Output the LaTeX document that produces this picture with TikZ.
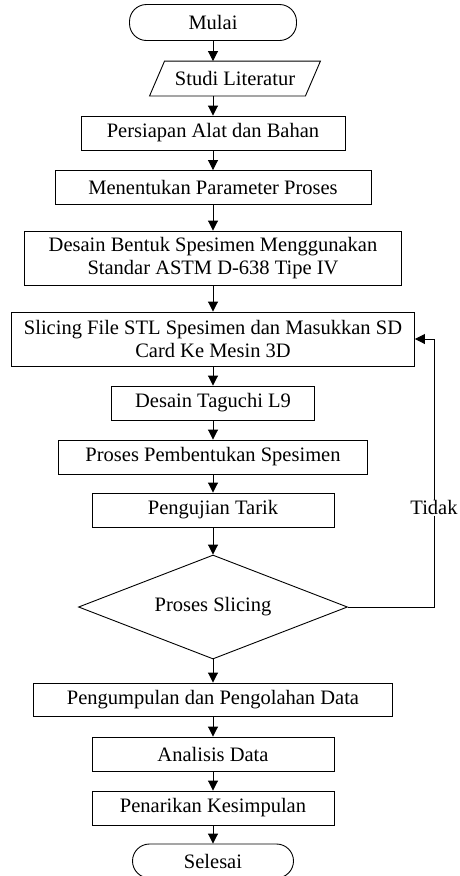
\documentclass[tikz,border=0pt]{standalone}
\usepackage{fontspec}
\setmainfont{Liberation Serif}
\usepackage{tikz}
\usetikzlibrary{arrows.meta,shapes.geometric}

\begin{document}
\begin{tikzpicture}[
  x=1pt,y=-1pt,
  font=\fontsize{20.5}{23}\selectfont,
  line width=0.9pt,
  box/.style={draw,minimum height=34pt,inner sep=2pt,align=center},
  twoline/.style={box,minimum height=54pt},
  term/.style={box,rounded corners=17pt},
  decbox/.style={draw,diamond,aspect=2.6,minimum width=269pt,minimum height=104pt,inner sep=0pt},
  arr/.style={-{Triangle[length=10pt,width=10pt]}},
  lbl/.style={fill=white,inner sep=1pt}
]
  \useasboundingbox (0,0) rectangle (460,876);

  \node[term,minimum width=167pt,minimum height=36pt] (mulai) at (213,22.5) {Mulai};
  \node[minimum width=155pt,minimum height=34pt,inner sep=2pt] (studi) at (235,78.5) {Studi Literatur};
  \draw ([xshift=7.5pt]studi.north west) -- ([xshift=7.5pt]studi.north east)
     -- ([xshift=-7.5pt]studi.south east) -- ([xshift=-7.5pt]studi.south west) -- cycle;
  \node[box,minimum width=264pt] (persiapan) at (213,133) {Persiapan Alat dan Bahan};
  \node[box,minimum width=316pt] (parameter) at (213,187.5) {Menentukan Parameter Proses};
  \node[twoline,minimum width=377pt] (desain) at (213,258) {Desain Bentuk Spesimen Menggunakan\\Standar ASTM D-638 Tipe IV};
  \node[twoline,minimum width=403pt] (slicing) at (213,339) {Slicing File STL Spesimen dan Masukkan SD\\Card Ke Mesin 3D};
  \node[box,minimum width=203pt] (taguchi) at (213,403) {Desain Taguchi L9};
  \node[box,minimum width=309pt] (pembentukan) at (213,457) {Proses Pembentukan Spesimen};
  \node[box,minimum width=242pt] (tarik) at (213,510) {Pengujian Tarik};
  \node[decbox] (cek) at (213,607) {Proses Slicing};
  \node[box,minimum width=359pt,minimum height=33pt] (data) at (213,699.5) {Pengumpulan dan Pengolahan Data};
  \node[box,minimum width=242pt] (analisis) at (213,754) {Analisis Data};
  \node[box,minimum width=242pt] (simpulan) at (213,808) {Penarikan Kesimpulan};
  \node[term,minimum width=161pt] (selesai) at (213,861) {Selesai};

  \draw[arr] (mulai.south) -- (mulai.south |- studi.north);
  \draw[arr] (persiapan.north |- studi.south) -- (persiapan.north);
  \foreach \a/\b in {persiapan/parameter,parameter/desain,desain/slicing,slicing/taguchi,
    taguchi/pembentukan,pembentukan/tarik,tarik/cek,cek/data,data/analisis,
    analisis/simpulan,simpulan/selesai}
    \draw[arr] (\a.south) -- (\b.north);

  % kembali ke slicing
  \coordinate (balik) at (434,339);
  \draw[arr] (cek.east) -| node[lbl,pos=0.685] (tidak) {Tidak} (balik) -- (slicing.east);
\end{tikzpicture}
\end{document}
